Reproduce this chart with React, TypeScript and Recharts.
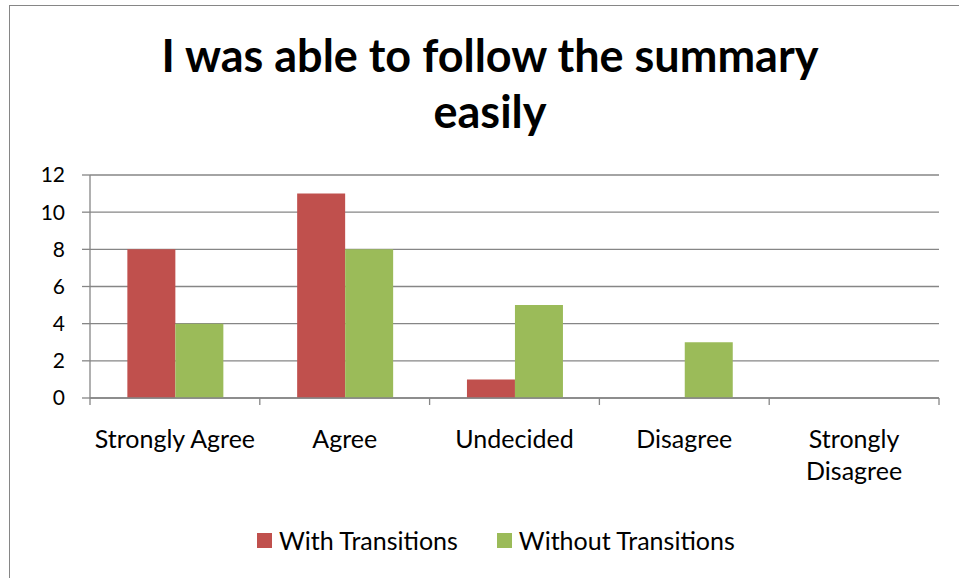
import React from 'react';
import { BarChart, Bar, XAxis, YAxis, CartesianGrid } from 'recharts';

const categories = ['Strongly Agree', 'Agree', 'Undecided', 'Disagree', 'Strongly Disagree'];
const withTransitions = [8, 11, 1, 0, 0];
const withoutTransitions = [4, 8, 5, 3, 0];
const yTicks = [0, 2, 4, 6, 8, 10, 12];

const TITLE = 'I was able to follow the summary easily';
const SERIES = [
  { key: 'with', name: 'With Transitions', color: '#C0504D' },
  { key: 'without', name: 'Without Transitions', color: '#9BBB59' },
];

const FONT = 'Lato, "Open Sans", sans-serif';
const GRID = '#868686';

const data = categories.map((c, i) => ({
  category: c,
  with: withTransitions[i],
  without: withoutTransitions[i],
}));

// category label + tick marks on the band edges (Excel style)
const CategoryTick = (props: any) => {
  const { x, y, payload, index, visibleTicksCount } = props;
  const label: string = payload.value;
  const lines = label.length > 15 ? label.split(' ') : [label];
  const half = payload.offset || 0;
  const last = index === visibleTicksCount - 1;
  return (
    <g>
      <line x1={x - half} x2={x - half} y1={y} y2={y + 7} stroke={GRID} strokeWidth={1.3} />
      {last && <line x1={x + half} x2={x + half} y1={y} y2={y + 7} stroke={GRID} strokeWidth={1.3} />}
      <text x={x} y={y} textAnchor="middle" fill="#000" fontSize={25} fontFamily={FONT}>
        {lines.map((l, i) => (
          <tspan key={i} x={x} dy={i === 0 ? 50 : 32}>
            {l}
          </tspan>
        ))}
      </text>
    </g>
  );
};

export default function App() {
  return (
    <div
      style={{
        position: 'fixed',
        left: 0,
        top: 0,
        width: 959,
        height: 578,
        overflow: 'hidden',
        background: '#fff',
      }}
    >
      {/* chart border */}
      <div
        style={{
          position: 'absolute',
          left: 9,
          top: 5,
          width: 970,
          height: 600,
          border: '1.5px solid ' + GRID,
        }}
      />
      {/* title */}
      <div
        style={{
          position: 'absolute',
          left: 110,
          top: 27,
          width: 760,
          padding: '0 40px',
          boxSizing: 'border-box',
          textAlign: 'center',
          fontFamily: FONT,
          fontWeight: 700,
          fontSize: 45,
          lineHeight: '56px',
          color: '#000',
        }}
      >
        {TITLE}
      </div>
      <BarChart
        width={959}
        height={578}
        data={data}
        margin={{ top: 175, right: 20, left: 30, bottom: 120 }}
        barCategoryGap="22%"
        barGap={0}
        style={{ position: 'absolute', left: 0, top: 0 }}
      >
        <CartesianGrid vertical={false} stroke={GRID} strokeWidth={1.3} />
        <XAxis
          dataKey="category"
          height={60}
          interval={0}
          stroke={GRID}
          strokeWidth={1.3}
          tickLine={false}
          tickSize={0}
          tickMargin={0}
          tick={<CategoryTick />}
        />
        <YAxis
          width={60}
          domain={[0, 12]}
          ticks={yTicks}
          interval={0}
          stroke={GRID}
          strokeWidth={1.3}
          tickSize={8}
          tickMargin={17}
          tick={{ fill: '#000', fontSize: 21, fontFamily: FONT }}
        />
        {SERIES.map((s) => (
          <Bar key={s.key} dataKey={s.key} name={s.name} fill={s.color} isAnimationActive={false} />
        ))}
      </BarChart>
      {/* legend */}
      <div
        style={{
          position: 'absolute',
          left: 257,
          top: 525,
          display: 'flex',
          alignItems: 'center',
          fontFamily: FONT,
          fontSize: 25,
          color: '#000',
        }}
      >
        {SERIES.map((s, i) => (
          <div key={s.key} style={{ display: 'flex', alignItems: 'center', marginRight: i === 0 ? 39 : 0 }}>
            <span style={{ width: 15, height: 15, background: s.color, display: 'inline-block', marginRight: 7 }} />
            <span>{s.name}</span>
          </div>
        ))}
      </div>
    </div>
  );
}
